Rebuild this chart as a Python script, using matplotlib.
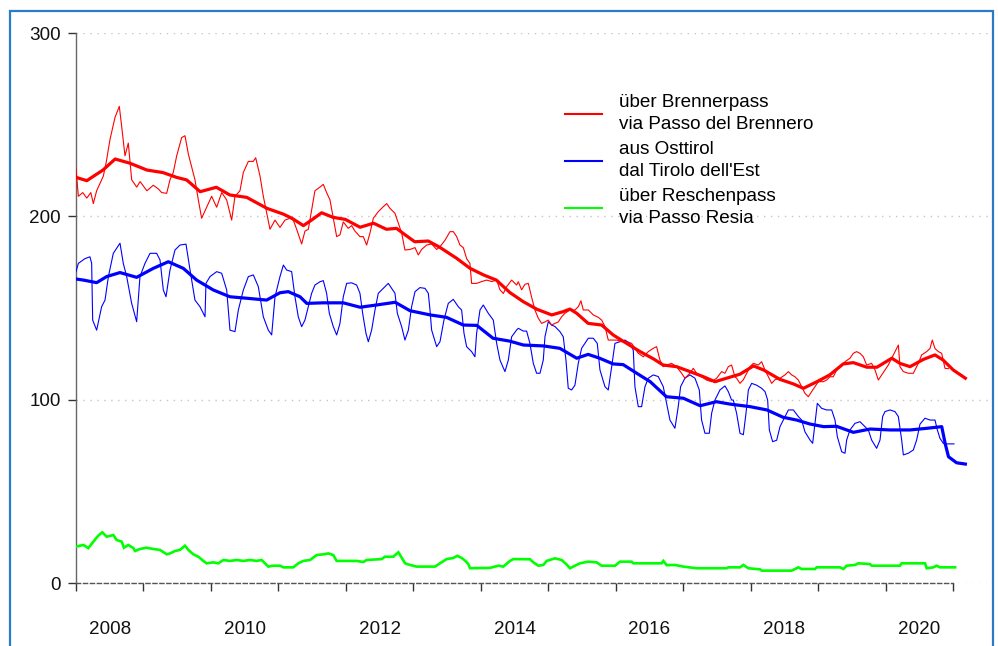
import matplotlib
matplotlib.use("Agg")
import matplotlib.pyplot as plt
from matplotlib.lines import Line2D
from matplotlib.patches import Rectangle

plt.rcParams['font.family'] = ['Liberation Sans', 'DejaVu Sans']

# ---------------- data (fractional year, value) ----------------
red_thin_t = [2008.00, 2008.035, 2008.10, 2008.16, 2008.22, 2008.257, 2008.306, 2008.355, 2008.405, 2008.45,
              2008.504, 2008.578, 2008.642, 2008.677, 2008.726, 2008.775, 2008.825, 2008.90, 2008.95, 2009.05,
              2009.146, 2009.22, 2009.27, 2009.344, 2009.393, 2009.442, 2009.492, 2009.566, 2009.615, 2009.665,
              2009.714, 2009.763, 2009.813, 2009.862, 2009.936, 2010.01, 2010.085, 2010.159, 2010.233, 2010.307,
              2010.356, 2010.43, 2010.48, 2010.554, 2010.628, 2010.663, 2010.727, 2010.776, 2010.825, 2010.875,
              2010.949, 2011.023, 2011.097, 2011.171, 2011.22, 2011.27, 2011.344, 2011.393, 2011.443, 2011.492,
              2011.541, 2011.616, 2011.665, 2011.714, 2011.764, 2011.813, 2011.863, 2011.912, 2011.961, 2012.035,
              2012.085, 2012.134, 2012.208, 2012.258, 2012.307, 2012.357, 2012.406, 2012.48, 2012.554, 2012.604,
              2012.653, 2012.727, 2012.777, 2012.826, 2012.875, 2012.95, 2013.024, 2013.073, 2013.122, 2013.196,
              2013.27, 2013.345, 2013.394, 2013.468, 2013.542, 2013.592, 2013.641, 2013.69, 2013.74, 2013.789,
              2013.838, 2013.863, 2013.937, 2014.011, 2014.085, 2014.16, 2014.234, 2014.283, 2014.333, 2014.382,
              2014.456, 2014.53, 2014.555, 2014.604, 2014.653, 2014.703, 2014.752, 2014.801, 2014.851, 2014.90,
              2014.95, 2014.999, 2015.048, 2015.098, 2015.147, 2015.197, 2015.246, 2015.32, 2015.394, 2015.444,
              2015.483, 2015.518, 2015.592, 2015.666, 2015.74, 2015.79, 2015.839, 2015.888, 2015.938, 2016.012,
              2016.086, 2016.16, 2016.234, 2016.283, 2016.333, 2016.407, 2016.481, 2016.555, 2016.604, 2016.654,
              2016.703, 2016.753, 2016.827, 2016.901, 2016.975, 2017.024, 2017.098, 2017.148, 2017.197, 2017.271,
              2017.345, 2017.42, 2017.494, 2017.568, 2017.617, 2017.667, 2017.716, 2017.765, 2017.79, 2017.84,
              2017.89, 2017.94, 2017.988, 2018.038, 2018.112, 2018.161, 2018.21, 2018.26, 2018.31, 2018.36,
              2018.433, 2018.507, 2018.557, 2018.606, 2018.655, 2018.705, 2018.754, 2018.803, 2018.853, 2018.902,
              2018.952, 2019.001, 2019.075, 2019.124, 2019.174, 2019.223, 2019.273, 2019.347, 2019.396, 2019.47,
              2019.52, 2019.569, 2019.618, 2019.668, 2019.717, 2019.791, 2019.841, 2019.89, 2019.94, 2019.989,
              2020.038, 2020.088, 2020.137, 2020.187, 2020.211, 2020.261, 2020.335, 2020.409, 2020.483, 2020.532,
              2020.606, 2020.656, 2020.69, 2020.73, 2020.78, 2020.829, 2020.878, 2020.928]
red_thin_v = [226, 211, 213, 210, 213, 207, 214, 218, 222, 230,
              242, 254, 260, 249, 233, 240, 220, 216, 219, 214,
              217, 215, 213, 212.6, 220, 224, 233, 243, 244, 234,
              227, 220, 209, 199, 205, 211, 205, 213, 209, 198,
              211, 214, 224, 230, 230, 232, 222, 211, 202, 193,
              198, 194, 198, 199, 198, 193, 185, 192, 193, 203.5,
              214, 216, 217.5, 213, 209, 199, 189, 190, 197, 193.5,
              195, 192, 189, 189, 184.4, 191, 199, 202.6, 205.3, 207,
              204.4, 201.7, 196.3, 191, 181.7, 182, 183, 179, 182, 184.4,
              185, 182, 183.5, 187, 191.7, 191.7, 189, 184.4, 183, 177,
              174.4, 163.5, 163.5, 164.5, 165.3, 164.5, 165.3, 160, 158, 161.7,
              165.3, 162.6, 164.4, 160, 163, 163.5, 156, 149, 144.5, 141.7,
              142.5, 143.5, 140.8, 141.7, 142.5, 145.3, 147.2, 149, 149, 150.8,
              154, 149, 149, 146.3, 145, 143.5, 140, 132.6, 132.6, 132.6,
              131.7, 131.7, 130.8, 128.1, 125.4, 123.5, 126.3, 128.1, 129, 121.7,
              118.1, 119, 119.9, 118.1, 114.5, 111.8, 114.5, 117.2, 114.5, 112.6,
              110.8, 109.9, 111.8, 115.4, 114.5, 118.1, 119, 112.6, 111.8, 109,
              111, 114.5, 118.1, 119.9, 119, 120.8, 116.3, 112.6, 109, 111,
              111.8, 113.6, 115.4, 113.6, 112.6, 110.8, 107.2, 103.6, 101.7, 104.5,
              107.2, 109.9, 109.9, 110.8, 112.6, 112.6, 116.3, 119, 120.8, 122.7,
              125.4, 126.3, 125.4, 123.5, 119, 119.9, 116.3, 110.8, 113.6, 116.3,
              119, 122.7, 126.3, 129.9, 118.1, 115.4, 114.5, 114.5, 119.9, 124.5,
              126.3, 128, 132.6, 128, 126.3, 125.4, 117.2, 117]

red_smooth_t = [2008.00, 2008.16, 2008.40, 2008.58, 2008.80, 2009.05, 2009.29, 2009.49, 2009.64, 2009.84,
                2010.08, 2010.28, 2010.53, 2010.83, 2011.07, 2011.20, 2011.37, 2011.49, 2011.64, 2011.81,
                2011.99, 2012.21, 2012.41, 2012.60, 2012.75, 2012.88, 2013.02, 2013.22, 2013.39, 2013.64,
                2013.84, 2014.04, 2014.23, 2014.43, 2014.63, 2014.83, 2015.05, 2015.22, 2015.32, 2015.42,
                2015.59, 2015.79, 2015.96, 2016.16, 2016.36, 2016.56, 2016.70, 2016.90, 2017.10, 2017.30,
                2017.47, 2017.64, 2017.84, 2018.04, 2018.19, 2018.43, 2018.63, 2018.78, 2018.98, 2019.17,
                2019.37, 2019.52, 2019.72, 2019.87, 2020.09, 2020.21, 2020.36, 2020.56, 2020.73, 2020.85,
                2021.00, 2021.18]
red_smooth_v = [221.3, 219.5, 225.3, 231.3, 229, 225.3, 223.9, 221.3, 219.9, 213.5,
                215.9, 211.7, 210.4, 204.4, 201.3, 199, 195, 198, 202, 199.5,
                198.4, 194.1, 196.3, 193, 193.5, 189.9, 186.2, 186.6, 183.2, 177.2,
                171.7, 168.1, 165.3, 158.5, 153.5, 149.4, 146.3, 148.1, 149.5, 147.2,
                141.7, 140.8, 135.4, 130.8, 126.3, 122.3, 119, 118.1, 115.4, 112.6,
                109.9, 111.8, 114, 118.5, 116.3, 111.2, 108.7, 106.3, 109.9, 113.6,
                119.6, 120.3, 117.8, 117.8, 122.7, 119.9, 118.1, 122.1, 124.5, 121.7,
                116.3, 111.8]

blue_thin_t = [2008.0, 2008.035, 2008.133, 2008.207, 2008.232, 2008.247, 2008.306, 2008.38, 2008.43, 2008.48,
               2008.553, 2008.652, 2008.701, 2008.751, 2008.825, 2008.899, 2008.948, 2009.022, 2009.097, 2009.195,
               2009.245, 2009.294, 2009.334, 2009.393, 2009.467, 2009.541, 2009.63, 2009.69, 2009.763, 2009.837,
               2009.912, 2009.926, 2009.986, 2010.085, 2010.159, 2010.233, 2010.282, 2010.356, 2010.406, 2010.48,
               2010.554, 2010.628, 2010.702, 2010.776, 2010.85, 2010.90, 2010.949, 2011.023, 2011.073, 2011.122,
               2011.196, 2011.245, 2011.294, 2011.344, 2011.393, 2011.443, 2011.492, 2011.541, 2011.616, 2011.665,
               2011.714, 2011.754, 2011.813, 2011.863, 2011.912, 2011.961, 2012.011, 2012.085, 2012.159, 2012.208,
               2012.248, 2012.297, 2012.332, 2012.381, 2012.431, 2012.48, 2012.554, 2012.628, 2012.678, 2012.727,
               2012.762, 2012.826, 2012.875, 2012.925, 2012.974, 2013.024, 2013.097, 2013.172, 2013.221, 2013.246,
               2013.27, 2013.345, 2013.394, 2013.453, 2013.517, 2013.591, 2013.665, 2013.715, 2013.75, 2013.789,
               2013.863, 2013.912, 2013.937, 2013.987, 2014.036, 2014.11, 2014.184, 2014.234, 2014.283, 2014.357,
               2014.407, 2014.456, 2014.53, 2014.555, 2014.629, 2014.678, 2014.727, 2014.777, 2014.826, 2014.876,
               2014.925, 2014.95, 2014.999, 2015.048, 2015.098, 2015.172, 2015.221, 2015.261, 2015.295, 2015.345,
               2015.394, 2015.444, 2015.493, 2015.592, 2015.666, 2015.725, 2015.765, 2015.839, 2015.888, 2015.938,
               2015.987, 2016.061, 2016.135, 2016.209, 2016.259, 2016.283, 2016.333, 2016.382, 2016.432, 2016.481,
               2016.555, 2016.629, 2016.703, 2016.743, 2016.802, 2016.876, 2016.925, 2016.96, 2017.024, 2017.098,
               2017.173, 2017.237, 2017.271, 2017.321, 2017.385, 2017.42, 2017.469, 2017.543, 2017.617, 2017.667,
               2017.716, 2017.741, 2017.79, 2017.84, 2017.89, 2017.929, 2017.964, 2018.013, 2018.087, 2018.161,
               2018.211, 2018.25, 2018.275, 2018.324, 2018.384, 2018.433, 2018.482, 2018.557, 2018.631, 2018.705,
               2018.754, 2018.803, 2018.878, 2018.917, 2018.952, 2018.986, 2019.05, 2019.125, 2019.199, 2019.248,
               2019.283, 2019.347, 2019.396, 2019.421, 2019.47, 2019.544, 2019.618, 2019.693, 2019.742, 2019.791,
               2019.865, 2019.915, 2019.954, 2019.989, 2020.063, 2020.137, 2020.187, 2020.236, 2020.261, 2020.335,
               2020.409, 2020.458, 2020.508, 2020.582, 2020.656, 2020.73, 2020.765, 2020.804, 2020.853, 2020.903,
               2021.011]
blue_thin_v = [169.9, 174.4, 177, 178, 174.4, 143.5, 138, 150.8, 154.4, 167.2,
               179.9, 185.4, 174.4, 167.2, 152.6, 142.6, 167.2, 174.4, 179.9, 179.9,
               176.3, 159.9, 156.2, 170.8, 181.7, 184.4, 184.9, 170.8, 154.4, 150.8,
               145.3, 163.5, 167.2, 169.9, 169, 159.9, 138, 137.2, 149, 159.9,
               167.2, 168.1, 161.7, 145.3, 138, 135.4, 156.2, 167.2, 173.5, 170.8,
               169.9, 156.2, 145.3, 139.9, 143.5, 150.8, 158.1, 162.6, 164.4, 165,
               158.1, 147.2, 139.9, 135.4, 141.7, 156.2, 163.5, 163.8, 162.6, 158.1,
               147.2, 136.3, 131.7, 138, 149, 158.1, 160.8, 163.5, 160.8, 158.1,
               147.2, 139.9, 132.6, 138, 150.8, 159, 161.2, 160.8, 158.1, 149,
               138.1, 129, 131.7, 143.5, 152.6, 154.8, 150.8, 149, 136.3, 129,
               126.3, 123.5, 136.3, 149, 151.7, 147.2, 143.5, 130.8, 121.7, 115.4,
               121.7, 134.4, 138.1, 139, 137.5, 137.5, 130.8, 119.9, 114.5, 114.5,
               121.7, 134.4, 142.6, 140.8, 140, 137.2, 134.4, 121.7, 106.3, 105.4,
               108, 120, 128.1, 133.6, 133.6, 130.8, 116.3, 107.2, 105.4, 118,
               130.8, 131.7, 132.6, 130.8, 127, 107.2, 96.3, 96.3, 107.2, 111.8,
               113.6, 112.7, 107.2, 99.9, 89, 84.5, 96.3, 107.2, 111.8, 113.6,
               111.8, 105.4, 89, 81.8, 81.8, 92.7, 99.9, 105.4, 107.6, 104.5,
               99.9, 99.9, 92.7, 81.8, 81, 92.7, 105.4, 109, 108, 106.3,
               104.5, 99.9, 83.6, 77.2, 78, 85.4, 89, 94.5, 94.5, 90.9,
               89, 82.6, 78.1, 76.3, 87.2, 98.1, 95.4, 94.5, 94.5, 89,
               79.9, 71.7, 70.9, 78.1, 83.6, 87.2, 88.1, 85.4, 83.6, 78.1,
               73.6, 78.1, 90.9, 93.6, 94.5, 93.6, 90.9, 78.1, 70, 70.9,
               72.7, 78.1, 86.8, 90, 89, 89, 83.6, 79, 76.3, 76,
               76]

blue_smooth_t = [2008.0, 2008.11, 2008.306, 2008.454, 2008.652, 2008.899, 2009.146, 2009.368, 2009.59, 2009.788,
                 2010.035, 2010.282, 2010.53, 2010.825, 2011.023, 2011.146, 2011.32, 2011.42, 2011.66, 2011.96,
                 2012.21, 2012.45, 2012.73, 2012.95, 2013.25, 2013.49, 2013.74, 2013.94, 2014.18, 2014.43,
                 2014.63, 2014.93, 2015.17, 2015.42, 2015.59, 2015.76, 2015.96, 2016.11, 2016.31, 2016.51,
                 2016.75, 2017.0, 2017.25, 2017.49, 2017.69, 2017.99, 2018.24, 2018.48, 2018.68, 2018.88,
                 2019.08, 2019.27, 2019.52, 2019.77, 2020.06, 2020.36, 2020.61, 2020.83, 2020.88, 2020.93,
                 2021.05, 2021.18]
blue_smooth_v = [165.9, 165.3, 163.9, 167.2, 169.4, 166.8, 171.7, 175.3, 171.7, 165.3,
                 159.9, 156.2, 155.4, 154.4, 158.4, 159, 156.2, 152.6, 152.9, 152.9,
                 150.5, 151.7, 153.2, 148.6, 146.3, 145, 140.8, 140.6, 133.6, 132,
                 129.9, 129.4, 128.1, 122.7, 124.8, 122.7, 119.6, 119.2, 114.5, 109.9,
                 101.7, 100.9, 96.8, 99, 97.7, 96.3, 94.5, 90.5, 89, 86.8,
                 85.4, 85.6, 82.3, 84.1, 83.6, 83.6, 84.5, 85.4, 76.3, 69,
                 65.7, 65]

green_t = [2008.0, 2008.109, 2008.183, 2008.257, 2008.331, 2008.39, 2008.454, 2008.553, 2008.603, 2008.677,
           2008.711, 2008.775, 2008.85, 2008.874, 2008.948, 2009.047, 2009.146, 2009.245, 2009.344, 2009.393,
           2009.467, 2009.541, 2009.615, 2009.665, 2009.739, 2009.813, 2009.887, 2009.936, 2010.035, 2010.109,
           2010.183, 2010.282, 2010.381, 2010.48, 2010.578, 2010.677, 2010.751, 2010.801, 2010.85, 2010.924,
           2011.023, 2011.073, 2011.22, 2011.295, 2011.369, 2011.468, 2011.567, 2011.665, 2011.739, 2011.813,
           2011.863, 2012.159, 2012.258, 2012.307, 2012.53, 2012.579, 2012.703, 2012.777, 2012.826, 2012.876,
           2012.95, 2013.049, 2013.32, 2013.394, 2013.493, 2013.592, 2013.651, 2013.716, 2013.765, 2013.814,
           2013.839, 2014.135, 2014.258, 2014.333, 2014.431, 2014.481, 2014.728, 2014.778, 2014.852, 2014.926,
           2014.975, 2015.099, 2015.198, 2015.272, 2015.321, 2015.395, 2015.469, 2015.593, 2015.716, 2015.79,
           2015.988, 2016.062, 2016.235, 2016.26, 2016.679, 2016.704, 2016.754, 2016.877, 2017.0, 2017.198,
           2017.643, 2017.667, 2017.84, 2017.89, 2017.964, 2018.137, 2018.162, 2018.606, 2018.655, 2018.705,
           2018.754, 2018.952, 2018.977, 2019.322, 2019.372, 2019.421, 2019.545, 2019.594, 2019.767, 2019.792,
           2020.212, 2020.236, 2020.582, 2020.607, 2020.706, 2020.755, 2020.805, 2021.028]
green_v = [20, 20.9, 19.2, 22.7, 26, 27.8, 25.4, 26.3, 23.6, 22.7,
           19.4, 20.9, 19.2, 17.6, 18.7, 19.4, 18.7, 18.2, 15.8, 16.3,
           17.6, 18.2, 20.5, 18.2, 15.8, 14.5, 12.2, 10.9, 11.4, 10.9,
           12.7, 12.2, 12.7, 12.2, 12.7, 12.2, 12.7, 10.9, 9.1, 9.6,
           9.6, 8.7, 8.7, 10.9, 12.2, 12.7, 15.4, 15.8, 16.3, 15.4,
           12.2, 12.2, 11.6, 12.7, 13.2, 14.5, 14.5, 16.9, 14, 10.9,
           10, 9.1, 9.1, 10.9, 13.2, 13.8, 15, 13.8, 12.4, 10.5,
           8.2, 8.4, 9.6, 9.1, 12.2, 13.2, 13.1, 11.4, 9.6, 10,
           12.2, 13.6, 12.7, 10.2, 8.2, 9.6, 10.9, 11.8, 11.4, 9.6,
           9.6, 11.8, 11.8, 10.9, 10.9, 12.2, 9.9, 10, 9.1, 8.2,
           8.2, 8.7, 8.7, 10, 8.2, 7.6, 6.9, 6.9, 7.8, 8.7,
           7.8, 7.8, 8.7, 8.7, 7.8, 9.6, 10, 10.9, 10.5, 9.6,
           9.6, 10.9, 10.9, 8.2, 8.7, 9.6, 8.7, 8.7]

year_ticks = list(range(2008, 2022))
label_years = [2008, 2010, 2012, 2014, 2016, 2018, 2020]
y_ticks = [0, 100, 200, 300]
legend_labels = ["über Brennerpass\nvia Passo del Brennero",
                 "aus Osttirol\ndal Tirolo dell'Est",
                 "über Reschenpass\nvia Passo Resia"]

RED, BLUE, GREEN = '#ff0000', '#0000ff', '#00ff00'
FS = 13.6

fig = plt.figure(figsize=(9.98, 6.46), dpi=100)
fig.patch.set_facecolor('white')
fig.patches.append(Rectangle((10 / 998, -0.05), 983 / 998, (646 - 11.5) / 646 + 0.05,
                             transform=fig.transFigure, fill=False,
                             edgecolor='#2a7cc6', linewidth=1.6, clip_on=False))

ax = fig.add_axes([76 / 998, 62.7 / 646, 915 / 998, 550.3 / 646])
ax.set_xlim(2008, 2021.56)
ax.set_ylim(0, 300)

ax.plot(green_t, green_v, color=GREEN, lw=1.9, zorder=3, solid_joinstyle='miter')
ax.plot(blue_thin_t, blue_thin_v, color=BLUE, lw=0.8, zorder=4)
ax.plot(blue_smooth_t, blue_smooth_v, color=BLUE, lw=2.3, zorder=5)
ax.plot(red_thin_t, red_thin_v, color=RED, lw=0.8, zorder=6)
ax.plot(red_smooth_t, red_smooth_v, color=RED, lw=2.3, zorder=7)

for s in ['top', 'right']:
    ax.spines[s].set_visible(False)
ax.spines['left'].set_color('#666666')
ax.spines['left'].set_linewidth(1.0)
ax.spines['bottom'].set_color('#555555')
ax.spines['bottom'].set_linewidth(1.0)
ax.spines['bottom'].set_linestyle((0, (3, 2)))
ax.spines['bottom'].set_bounds(year_ticks[0], year_ticks[-1])

ax.set_yticks(y_ticks)
ax.set_yticklabels([str(v) for v in y_ticks])
ax.yaxis.grid(True, linestyle=(0, (1, 4)), color='#c4c4c4', linewidth=1.0)
ax.set_axisbelow(True)

ax.set_xticks(year_ticks)
ax.set_xticklabels([''] * len(year_ticks))
ax.set_xticks([y + 0.5 for y in label_years], minor=True)
ax.set_xticklabels([str(y) for y in label_years], minor=True)
ax.tick_params(axis='x', which='major', length=6, width=1, color='#333333', direction='out')
ax.tick_params(axis='x', which='minor', length=0, pad=27, labelsize=FS, labelcolor='#111111')
ax.tick_params(axis='y', length=6, width=1, color='#333333', pad=5, labelsize=FS, labelcolor='#111111')

handles = [Line2D([], [], color=c, lw=1.5) for c in (RED, BLUE, GREEN)]
leg = ax.legend(handles, legend_labels, loc='upper left', bbox_to_anchor=(565 / 998, 1 - 94 / 646),
                bbox_transform=fig.transFigure, frameon=False, fontsize=FS,
                handlelength=1.95, handletextpad=0.9, labelspacing=0.4, borderpad=0, borderaxespad=0)
for t in leg.get_texts():
    t.set_linespacing(1.42)

fig.savefig('out.png', dpi=100)
